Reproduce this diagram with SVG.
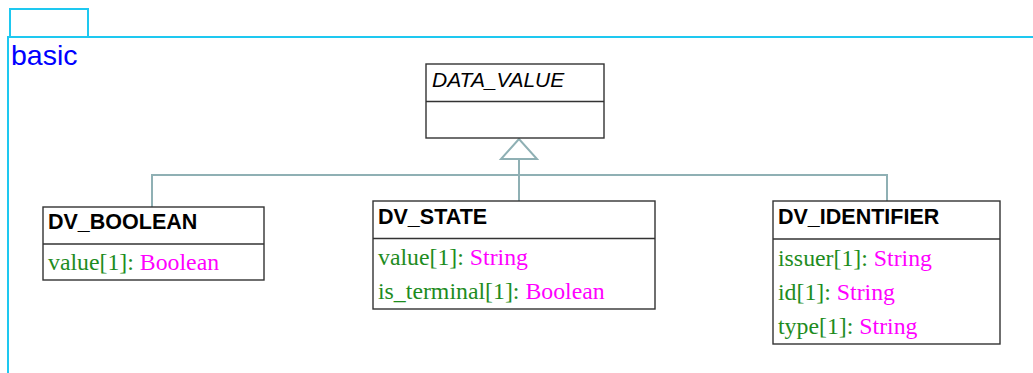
<svg xmlns="http://www.w3.org/2000/svg" width="1033" height="373" viewBox="0 0 1033 373">
<style>
.frame{fill:none;stroke:#1ec8f0;stroke-width:2}
.box{fill:#fff;stroke:#333;stroke-width:1.4}
.conn{fill:none;stroke:#8fb0b4;stroke-width:2}
.title{font-family:"Liberation Sans",Arial,sans-serif;font-size:21.5px;font-weight:bold;fill:#000}
.ititle{font-family:"Liberation Sans",Arial,sans-serif;font-size:21px;font-style:italic;fill:#000}
.attr{font-family:"Liberation Serif","Times New Roman",serif;font-size:23.8px;fill:#1e8c1e}
.type{fill:#ff00ff}
.pkg{font-family:"Liberation Sans",Arial,sans-serif;font-size:28.5px;fill:#0000ff}
</style>
<g id="package">
<rect class="frame" x="10" y="9" width="78" height="28"/>
<path class="frame" d="M8 373 V37 H1033"/>
<text class="pkg" x="11" y="65">basic</text>
</g>
<g id="connectors">
<path class="conn" d="M152 207 V175 H887 V201"/>
<path class="conn" d="M519 201 V159"/>
<polygon class="conn" points="519,139 501,159 537,159" style="fill:#fff"/>
</g>
<g id="DATA_VALUE">
<rect class="box" x="426" y="64" width="178" height="74"/>
<line class="box" x1="426" y1="101.5" x2="604" y2="101.5"/>
<text class="ititle" x="432" y="87">DATA_VALUE</text>
</g>
<g id="DV_BOOLEAN">
<rect class="box" x="43" y="207" width="221" height="73"/>
<line class="box" x1="43" y1="244" x2="264" y2="244"/>
<text class="title" x="48" y="229">DV_BOOLEAN</text>
<text class="attr" x="48" y="270">value[1]: <tspan class="type">Boolean</tspan></text>
</g>
<g id="DV_STATE">
<rect class="box" x="373" y="201" width="282" height="108"/>
<line class="box" x1="373" y1="238.5" x2="655" y2="238.5"/>
<text class="title" x="378" y="224">DV_STATE</text>
<text class="attr" x="378" y="265">value[1]: <tspan class="type">String</tspan></text>
<text class="attr" x="378" y="299">is_terminal[1]: <tspan class="type">Boolean</tspan></text>
</g>
<g id="DV_IDENTIFIER">
<rect class="box" x="773" y="201" width="227" height="143"/>
<line class="box" x1="773" y1="239" x2="1000" y2="239"/>
<text class="title" x="778" y="224">DV_IDENTIFIER</text>
<text class="attr" x="778" y="266">issuer[1]: <tspan class="type">String</tspan></text>
<text class="attr" x="778" y="300">id[1]: <tspan class="type">String</tspan></text>
<text class="attr" x="778" y="334">type[1]: <tspan class="type">String</tspan></text>
</g>
</svg>
